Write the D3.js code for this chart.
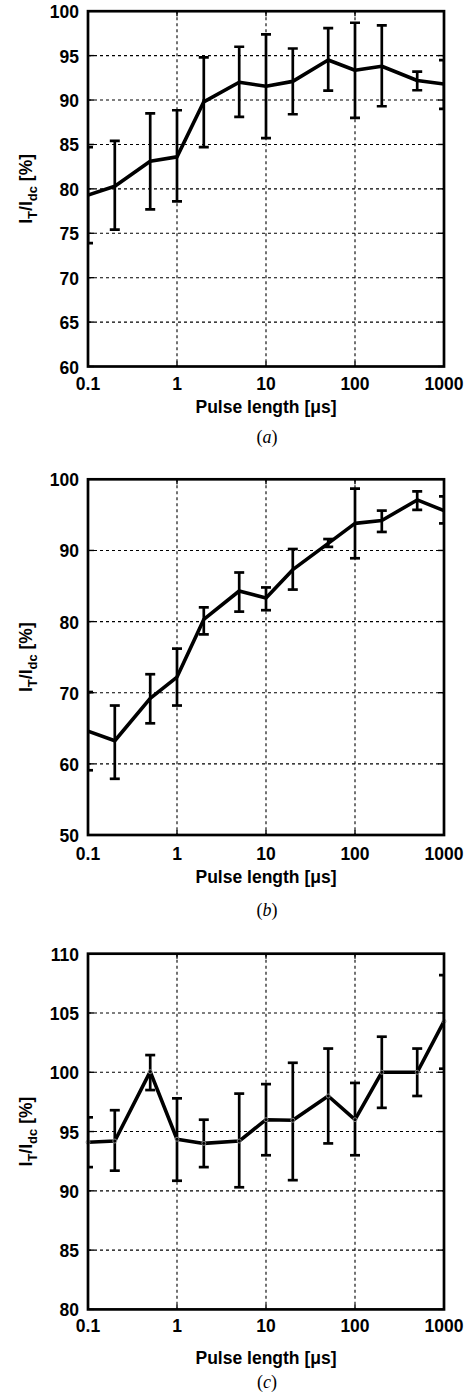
<!DOCTYPE html>
<html>
<head>
<meta charset="utf-8">
<script src="https://cdn.jsdelivr.net/npm/d3@7"></script>
<style>
  html, body { margin: 0; padding: 0; background: #fff; }
  svg { display: block; }
</style>
</head>
<body>
<svg id="chart"></svg>
<script>
// three stacked panels, log x axis, error bars (MATLAB-ish look)

const pulseLen = [0.1, 0.2, 0.5, 1, 2, 5, 10, 20, 50, 100, 200, 500, 1000];
const xTicks   = [0.1, 1, 10, 100, 1000];
const xTickLabels = ['0.1', '1', '10', '100', '1000'];

// panel (a)
const meanA = [79.3, 80.3, 83.1, 83.6, 89.8, 92.0, 91.55, 92.1, 94.5, 93.35, 93.8, 92.2, 91.8];
const hiA   = [84.7, 85.4, 88.5, 88.85, 94.8, 96.0, 97.4, 95.8, 98.1, 98.7, 98.4, 93.2, 94.5];
const loA   = [73.9, 75.4, 77.7, 78.6, 84.7, 88.1, 85.7, 88.4, 91.05, 88.0, 89.3, 91.1, 89.0];
const yTicksA = [60, 65, 70, 75, 80, 85, 90, 95, 100];

// panel (b)
const meanB = [64.6, 63.25, 69.2, 72.2, 80.3, 84.3, 83.3, 87.3, 91.0, 93.8, 94.2, 97.1, 95.6];
const hiB   = [70.1, 68.2, 72.6, 76.2, 82.0, 86.9, 84.8, 90.2, 91.6, 98.7, 95.6, 98.3, 97.6];
const loB   = [59.1, 57.9, 65.7, 68.2, 78.2, 81.4, 81.6, 84.5, 90.5, 88.9, 92.6, 95.7, 93.8];
const yTicksB = [50, 60, 70, 80, 90, 100];

// panel (c)
const meanC = [94.1, 94.2, 100.05, 94.35, 94.0, 94.2, 96.0, 95.95, 98.0, 96.0, 100.0, 100.0, 104.3];
const hiC   = [96.2, 96.8, 101.45, 97.8, 96.0, 98.2, 99.0, 100.8, 102.0, 99.1, 103.0, 102.0, 108.2];
const loC   = [92.0, 91.7, 98.5, 90.85, 92.0, 90.3, 93.0, 90.9, 94.0, 93.0, 97.0, 98.0, 100.3];
const yTicksC = [80, 85, 90, 95, 100, 105, 110];

const xLabel = 'Pulse length [\u03bcs]';
const captions = ['a', 'b', 'c'];

const W = 469, H = 1394;
const LEFT = 88, RIGHT = 444;

// layout per panel — pixel positions kept apart from the values
const panels = [
    { id: 'a', mean: meanA, hi: hiA, lo: loA, ticks: yTicksA, top: 11.2,  bottom: 366.5,  tickDy: 17, labDy: 40, capDy: 70, markers: false },
    { id: 'b', mean: meanB, hi: hiB, lo: loB, ticks: yTicksB, top: 479.3, bottom: 835,    tickDy: 19, labDy: 42, capDy: 75, markers: false },
    { id: 'c', mean: meanC, hi: hiC, lo: loC, ticks: yTicksC, top: 953.7, bottom: 1309.4, tickDy: 17, labDy: 49, capDy: 73, markers: true  },
];

const svg = d3.select('#chart').attr('width', W).attr('height', H);
const FONT = "'Liberation Sans', Arial, sans-serif";
const FS = 17.5;

const x = d3.scaleLog().domain([0.1, 1000]).range([LEFT, RIGHT]);

panels.forEach((p, pi) => {
    const y = d3.scaleLinear()
        .domain([p.ticks[0], p.ticks[p.ticks.length - 1]])
        .range([p.bottom, p.top]);

    const g = svg.append('g');
    const clipId = 'clip-' + p.id;
    svg.append('clipPath').attr('id', clipId)
        .append('rect')
        .attr('x', LEFT).attr('y', p.top)
        .attr('width', RIGHT - LEFT).attr('height', p.bottom - p.top);

    // ── grid ──────────────────────────────────────────────────────────────
    g.selectAll('.hgrid')
        .data(p.ticks.slice(1, -1))
        .join('line')
        .attr('x1', LEFT).attr('x2', RIGHT)
        .attr('y1', d => y(d)).attr('y2', d => y(d))
        .attr('stroke', '#000').attr('stroke-width', 1.1)
        .attr('stroke-dasharray', '3,3');

    g.selectAll('.vgrid')
        .data(xTicks.slice(1, -1))
        .join('line')
        .attr('x1', d => x(d)).attr('x2', d => x(d))
        .attr('y1', p.top).attr('y2', p.bottom)
        .attr('stroke', '#000').attr('stroke-width', 1.1)
        .attr('stroke-dasharray', '3,3');

    // inward tick marks, both sides
    p.ticks.forEach(t => {
        g.append('line').attr('x1', LEFT).attr('x2', LEFT + 6)
            .attr('y1', y(t)).attr('y2', y(t)).attr('stroke', '#000').attr('stroke-width', 1.4);
        g.append('line').attr('x1', RIGHT - 6).attr('x2', RIGHT)
            .attr('y1', y(t)).attr('y2', y(t)).attr('stroke', '#000').attr('stroke-width', 1.4);
    });
    xTicks.forEach(t => {
        g.append('line').attr('x1', x(t)).attr('x2', x(t))
            .attr('y1', p.bottom).attr('y2', p.bottom - 5).attr('stroke', '#000').attr('stroke-width', 1.4);
        g.append('line').attr('x1', x(t)).attr('x2', x(t))
            .attr('y1', p.top).attr('y2', p.top + 5).attr('stroke', '#000').attr('stroke-width', 1.4);
    });

    // ── data ──────────────────────────────────────────────────────────────
    const rows = pulseLen.map((v, i) => ({ x: v, m: p.mean[i], hi: p.hi[i], lo: p.lo[i] }));
    const dataG = g.append('g').attr('clip-path', `url(#${clipId})`);

    const capW = 5;
    const eb = dataG.selectAll('.eb').data(rows).join('g');
    eb.append('line')
        .attr('x1', d => x(d.x)).attr('x2', d => x(d.x))
        .attr('y1', d => y(d.hi)).attr('y2', d => y(d.lo))
        .attr('stroke', '#000').attr('stroke-width', 2.7);
    eb.append('line')
        .attr('x1', d => x(d.x) - capW).attr('x2', d => x(d.x) + capW)
        .attr('y1', d => y(d.hi)).attr('y2', d => y(d.hi))
        .attr('stroke', '#000').attr('stroke-width', 2.7);
    eb.append('line')
        .attr('x1', d => x(d.x) - capW).attr('x2', d => x(d.x) + capW)
        .attr('y1', d => y(d.lo)).attr('y2', d => y(d.lo))
        .attr('stroke', '#000').attr('stroke-width', 2.7);

    dataG.append('path')
        .datum(rows)
        .attr('d', d3.line().x(d => x(d.x)).y(d => y(d.m)))
        .attr('fill', 'none')
        .attr('stroke', '#000')
        .attr('stroke-width', 3.6)
        .attr('stroke-linejoin', 'round');

    if (p.markers) {
        g.selectAll('.mk').data(rows).join('circle')
            .attr('cx', d => x(d.x)).attr('cy', d => y(d.m)).attr('r', 2)
            .attr('fill', 'none').attr('stroke', '#999').attr('stroke-width', 0.8);
    }

    // frame
    g.append('rect')
        .attr('x', LEFT).attr('y', p.top)
        .attr('width', RIGHT - LEFT).attr('height', p.bottom - p.top)
        .attr('fill', 'none').attr('stroke', '#000').attr('stroke-width', 2.7);

    // ── labels ────────────────────────────────────────────────────────────
    g.selectAll('.ylab').data(p.ticks).join('text')
        .attr('x', 79).attr('y', d => y(d) + 1)
        .attr('text-anchor', 'end').attr('dominant-baseline', 'central')
        .attr('font-family', FONT).attr('font-weight', 'bold').attr('font-size', FS)
        .text(d => d);

    g.selectAll('.xlab').data(xTicks).join('text')
        .attr('x', d => x(d)).attr('y', p.bottom + p.tickDy)
        .attr('text-anchor', 'middle').attr('dominant-baseline', 'central')
        .attr('font-family', FONT).attr('font-weight', 'bold').attr('font-size', FS)
        .text((d, i) => xTickLabels[i]);

    g.append('text')
        .attr('x', (LEFT + RIGHT) / 2).attr('y', p.bottom + p.labDy)
        .attr('text-anchor', 'middle').attr('dominant-baseline', 'central')
        .attr('font-family', FONT).attr('font-weight', 'bold').attr('font-size', FS)
        .text(xLabel);

    // y label: I_T/I_dc [%]
    const yl = g.append('text')
        .attr('transform', `translate(32,${(p.top + p.bottom) / 2}) rotate(-90)`)
        .attr('text-anchor', 'middle')
        .attr('font-family', FONT).attr('font-weight', 'bold').attr('font-size', FS);
    yl.append('tspan').text('I');
    yl.append('tspan').attr('font-size', 13).attr('dy', 5).text('T');
    yl.append('tspan').attr('dy', -5).text('/I');
    yl.append('tspan').attr('font-size', 13).attr('dy', 5).text('dc');
    yl.append('tspan').attr('dy', -5).text(' [%]');

    // caption (a)/(b)/(c)
    const cap = g.append('text')
        .attr('x', 267).attr('y', p.bottom + p.capDy)
        .attr('text-anchor', 'middle').attr('dominant-baseline', 'central')
        .attr('font-family', "'Liberation Serif', 'Times New Roman', serif").attr('font-size', 18);
    cap.append('tspan').text('(');
    cap.append('tspan').attr('font-style', 'italic').text(captions[pi]);
    cap.append('tspan').text(')');
});
</script>
</body>
</html>
